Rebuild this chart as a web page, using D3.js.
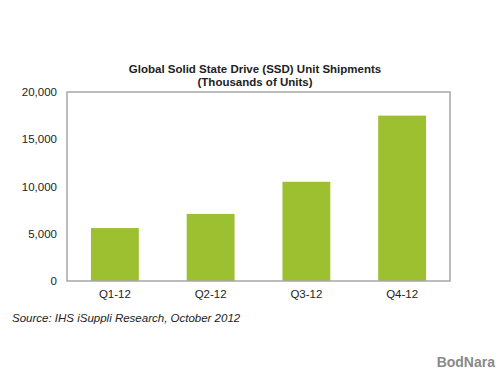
<!DOCTYPE html>
<html lang="en">
<head>
  <meta charset="UTF-8">
  <title>Global SSD Unit Shipments</title>
  <script src="https://d3js.org/d3.v7.min.js"></script>
  <style>
    body { margin: 0; background: #fff; }
    text { font-family: "Liberation Sans", Arial, sans-serif; fill: #222; }
  </style>
</head>
<body>
<script>
  const quarters = ["Q1-12", "Q2-12", "Q3-12", "Q4-12"];
  const shipments = [5600, 7100, 10500, 17500];
  const yTicks = [0, 5000, 10000, 15000, 20000];

  const svg = d3.select("body").append("svg")
    .attr("width", 500)
    .attr("height", 375);

  const plotLeft = 67, plotRight = 450, plotTop = 92, plotBottom = 281;

  const x = d3.scaleBand()
    .domain(quarters)
    .range([plotLeft, plotRight])
    .paddingInner(0.5)
    .paddingOuter(0.25);

  const y = d3.scaleLinear()
    .domain([0, 20000])
    .range([plotBottom, plotTop]);

  // title
  svg.append("text")
    .attr("x", 255).attr("y", 73)
    .attr("text-anchor", "middle")
    .style("font-size", "11.5px").style("font-weight", "bold")
    .text("Global Solid State Drive (SSD) Unit Shipments");
  svg.append("text")
    .attr("x", 255).attr("y", 86)
    .attr("text-anchor", "middle")
    .style("font-size", "11.5px").style("font-weight", "bold")
    .text("(Thousands of Units)");

  // bars
  svg.selectAll(".bar")
    .data(shipments)
    .enter().append("rect")
    .attr("class", "bar")
    .attr("x", (d, i) => x(quarters[i]))
    .attr("width", x.bandwidth())
    .attr("y", d => y(d))
    .attr("height", d => y(0) - y(d))
    .attr("fill", "#9dc030");

  // plot frame
  svg.append("rect")
    .attr("x", plotLeft).attr("y", plotTop)
    .attr("width", plotRight - plotLeft).attr("height", plotBottom - plotTop)
    .attr("fill", "none")
    .attr("stroke", "#a6a6a6")
    .attr("stroke-width", 1.5);

  const yAxis = svg.append("g")
    .attr("transform", "translate(" + plotLeft + ",0)")
    .call(d3.axisLeft(y).tickValues(yTicks).tickFormat(d3.format(",")).tickSize(0).tickPadding(10));
  yAxis.select(".domain").remove();
  yAxis.selectAll("text").style("font-size", "11.5px").style("font-family", "Liberation Sans, Arial, sans-serif").attr("fill", "#222");

  const xAxis = svg.append("g")
    .attr("transform", "translate(0," + plotBottom + ")")
    .call(d3.axisBottom(x).tickSize(0).tickPadding(9));
  xAxis.select(".domain").remove();
  xAxis.selectAll("text").style("font-size", "11.5px").style("font-family", "Liberation Sans, Arial, sans-serif").attr("fill", "#222");

  svg.append("text")
    .attr("x", 12).attr("y", 322)
    .style("font-size", "11.5px").style("font-style", "italic")
    .text("Source: IHS iSuppli Research, October 2012");

  svg.append("text")
    .attr("x", 495).attr("y", 367)
    .attr("text-anchor", "end")
    .style("font-size", "14px").style("font-weight", "bold")
    .style("fill", "#8a8a8a")
    .text("BodNara");
</script>
</body>
</html>
